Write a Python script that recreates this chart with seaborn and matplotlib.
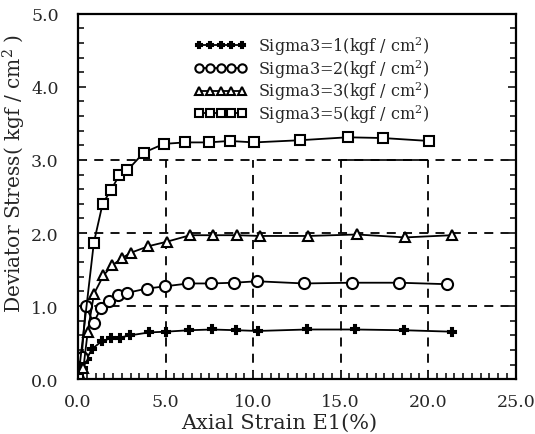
import numpy as np
import pandas as pd
import matplotlib
matplotlib.use("Agg")
import matplotlib.pyplot as plt
import seaborn as sns
from matplotlib.ticker import MultipleLocator, FormatStrFormatter

# ---- data ----
s1_x = [0.0, 0.3, 0.5, 0.78, 1.35, 1.87, 2.4, 2.97, 4.06, 5.0, 6.36, 7.64, 9.03, 10.27, 13.07, 15.83, 18.59, 21.35]
s1_y = [0.0, 0.15, 0.28, 0.41, 0.52, 0.56, 0.57, 0.60, 0.64, 0.65, 0.67, 0.68, 0.67, 0.66, 0.68, 0.68, 0.67, 0.65]

s2_x = [0.0, 0.2, 0.44, 0.88, 1.3, 1.79, 2.3, 2.78, 3.92, 4.95, 6.3, 7.58, 8.91, 10.21, 12.91, 15.64, 18.34, 21.07]
s2_y = [0.0, 0.3, 1.00, 0.77, 0.97, 1.07, 1.15, 1.18, 1.24, 1.27, 1.31, 1.31, 1.32, 1.34, 1.31, 1.32, 1.32, 1.30]

s3_x = [0.0, 0.3, 0.55, 0.91, 1.45, 1.96, 2.53, 3.01, 4.02, 5.05, 6.4, 7.73, 9.07, 10.4, 13.16, 15.92, 18.69, 21.35]
s3_y = [0.0, 0.15, 0.65, 1.17, 1.42, 1.56, 1.66, 1.73, 1.82, 1.88, 1.97, 1.97, 1.97, 1.96, 1.96, 1.98, 1.94, 1.97]

s5_x = [0.0, 0.9, 1.4, 1.88, 2.35, 2.82, 3.75, 4.9, 6.11, 7.45, 8.65, 10.06, 12.69, 15.39, 17.41, 20.02]
s5_y = [0.0, 1.87, 2.40, 2.59, 2.79, 2.86, 3.10, 3.22, 3.24, 3.24, 3.26, 3.24, 3.27, 3.31, 3.30, 3.26]

labels = ["Sigma3=1(kgf / cm$^2$)", "Sigma3=2(kgf / cm$^2$)",
          "Sigma3=3(kgf / cm$^2$)", "Sigma3=5(kgf / cm$^2$)"]
x_ticks = [0.0, 5.0, 10.0, 15.0, 20.0, 25.0]
y_ticks = [0.0, 1.0, 2.0, 3.0, 4.0, 5.0]

series = [(s1_x, s1_y), (s2_x, s2_y), (s3_x, s3_y), (s5_x, s5_y)]
markers = ["P", "o", "^", "s"]
msizes = [6, 8, 7, 7]

sns.set_theme(style="ticks")
plt.rcParams["font.family"] = ["DejaVu Serif"]
plt.rcParams["mathtext.fontset"] = "dejavuserif"

fig = plt.figure(figsize=(5.35, 4.35), dpi=100)
ax = fig.add_axes([0.146, 0.126, 0.818, 0.840])

for (xs, ys), lab, mk, ms in zip(series, labels, markers, msizes):
    df = pd.DataFrame({"x": xs, "y": ys})
    sns.lineplot(data=df, x="x", y="y", ax=ax, color="black", lw=1.3,
                 marker=mk, markersize=ms, markerfacecolor="white" if mk != "P" else "black",
                 markeredgecolor="black", markeredgewidth=1.5, sort=False,
                 label=lab, estimator=None)

# dashed reference grid
for yv in [1.0, 2.0, 3.0]:
    ax.axhline(yv, color="black", ls=(0, (5, 4)), lw=1.3, zorder=0)
for xv in [5.0, 10.0, 15.0, 20.0]:
    ax.axvline(xv, ymin=0, ymax=0.6, color="black", ls=(0, (5, 4)), lw=1.3, zorder=0)
ax.hlines(3.0, 15.0, 20.0, color="black", lw=1.2, zorder=0)

ax.set_xlim(0, 25)
ax.set_ylim(0, 5)
ax.set_xticks(x_ticks)
ax.set_yticks(y_ticks)
ax.xaxis.set_major_formatter(FormatStrFormatter("%.1f"))
ax.yaxis.set_major_formatter(FormatStrFormatter("%.1f"))
ax.xaxis.set_minor_locator(MultipleLocator(0.5))
ax.yaxis.set_minor_locator(MultipleLocator(0.2))
ax.tick_params(which="both", direction="in", right=True, top=False, labelsize=12.5, width=1.3)
ax.tick_params(which="major", length=6)
ax.tick_params(axis="x", which="major", pad=10)
ax.tick_params(axis="y", which="major", pad=14)
ax.tick_params(which="minor", length=4)
for sp in ax.spines.values():
    sp.set_linewidth(1.6)
    sp.set_color("black")

ax.set_xlabel("Axial Strain E1(%)", fontsize=15)
ax.set_ylabel("Deviator Stress( kgf / cm$^2$ )", fontsize=14.5)
ax.xaxis.set_label_coords(0.46, -0.093)
ax.yaxis.set_label_coords(-0.115, 0.565)

leg = ax.legend(loc="upper left", bbox_to_anchor=(0.24, 0.975), frameon=False,
                fontsize=11.5, handlelength=3.3, handletextpad=0.7, labelspacing=0.0,
                markerscale=0.75, numpoints=5, borderpad=0.2)

fig.savefig("out.png", dpi=100)
